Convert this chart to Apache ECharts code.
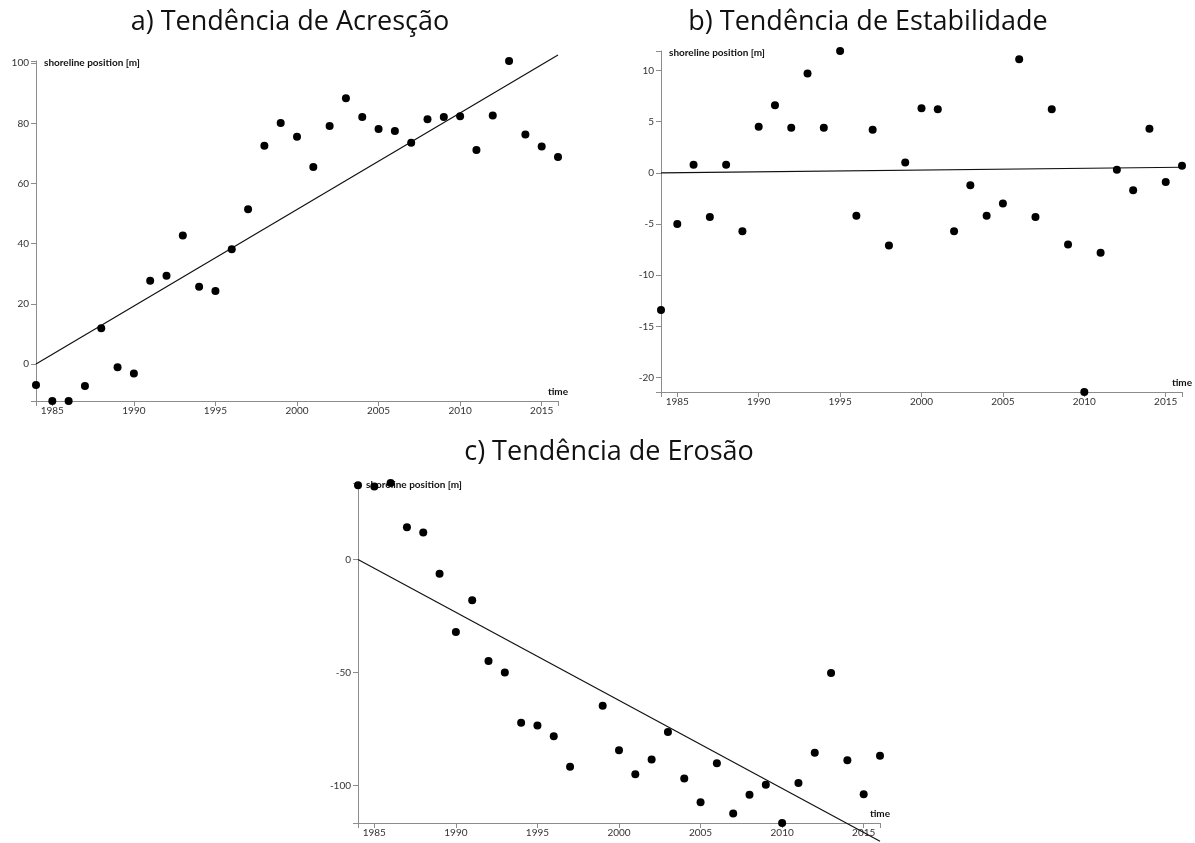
<!DOCTYPE html>
<html>
<head>
<meta charset="utf-8">
<script src="https://cdn.jsdelivr.net/npm/echarts@6/dist/echarts.min.js"></script>
<style>
  html, body { margin: 0; padding: 0; background: #fff; }
  #chart { width: 1195px; height: 843px; }
</style>
</head>
<body>
<div id="chart"></div>
<script>
// anos observados
const years = [1984, 1985, 1986, 1987, 1988, 1989, 1990, 1991, 1992, 1993, 1994,
  1995, 1996, 1997, 1998, 1999, 2000, 2001, 2002, 2003, 2004, 2005, 2006, 2007,
  2008, 2009, 2010, 2011, 2012, 2013, 2014, 2015, 2016];

// a) acresção
const accretion = [-7, -12.3, -12.3, -7.3, 11.9, -1.1, -3.2, 27.7, 29.3, 42.7, 25.7,
  24.3, 38.1, 51.4, 72.5, 80.1, 75.5, 65.5, 79.1, 88.3, 82.1, 78.1, 77.4, 73.5,
  81.3, 82.1, 82.3, 71.1, 82.6, 100.7, 76.3, 72.3, 68.8];
// b) estabilidade
const stability = [-13.4, -5.0, 0.8, -4.3, 0.8, -5.7, 4.5, 6.6, 4.4, 9.7, 4.4,
  11.9, -4.2, 4.2, -7.1, 1.0, 6.3, 6.2, -5.7, -1.2, -4.2, -3.0, 11.1, -4.3,
  6.2, -7.0, -21.4, -7.8, 0.3, -1.7, 4.3, -0.9, 0.7];
// c) erosão (sem 1998)
const erosion = [32.8, 32.3, 33.8, 14.2, 11.9, -6.3, -32.1, -18.0, -44.9, -50.0, -72.2,
  -73.4, -78.2, -91.6, null, -64.7, -84.3, -95.0, -88.4, -76.3, -96.8, -107.3, -90.1, -112.3,
  -104.0, -99.6, -116.5, -98.8, -85.4, -50.2, -88.8, -103.8, -86.8];

// linha de tendência: valor em 1984 e em 2016
const trendA = [0, 102.7];
const trendB = [0, 0.55];
const trendC = [0, -124.6];

const xTickLabels = [1985, 1990, 1995, 2000, 2005, 2010, 2015];
const yTicksA = [0, 20, 40, 60, 80, 100];
const yTicksB = [-20, -15, -10, -5, 0, 5, 10];
const yTicksC = [-100, -50, 0];

const titles = ['a) Tendência de Acresção', 'b) Tendência de Estabilidade', 'c) Tendência de Erosão'];

const axisColor = '#8c8c8c';
const titleFont = '27px "Open Sans"';
const x0 = years[0], x1 = years[years.length - 1];

function pairs(vals) {
  return years.map((y, i) => [y, vals[i]]).filter(p => p[1] != null);
}
function clean(vals) { return vals.filter(v => v != null); }

function xAxisFor(idx) {
  return {
    type: 'value', gridIndex: idx, min: x0, max: x1,
    name: 'time', nameLocation: 'end', nameGap: 0,
    nameTextStyle: { fontFamily: 'Lato', fontWeight: 'bold', fontSize: 10, color: '#111',
      align: 'center', verticalAlign: 'bottom', padding: [0, 0, 4, 0] },
    splitLine: { show: false },
    axisLine: { show: true, onZero: false, lineStyle: { color: axisColor, width: 1 } },
    axisTick: { show: true, length: 5, customValues: [x0].concat(xTickLabels, [x1]), lineStyle: { color: axisColor } },
    axisLabel: { customValues: xTickLabels, margin: 5, fontFamily: 'Lato', fontSize: 10, color: '#333',
      formatter: v => String(v) }
  };
}

function yAxisFor(idx, vals, ticks) {
  const v = clean(vals);
  const lo = Math.min(...v), hi = Math.max(...v);
  return {
    type: 'value', gridIndex: idx, min: lo, max: hi,
    name: 'shoreline position [m]', nameLocation: 'end', nameGap: -2,
    nameTextStyle: { fontFamily: 'Lato', fontWeight: 'bold', fontSize: 10, color: '#111',
      align: 'left', verticalAlign: 'middle', padding: [0, 0, 0, 8] },
    splitLine: { show: false },
    axisLine: { show: true, onZero: false, lineStyle: { color: axisColor, width: 1 } },
    axisTick: { show: true, length: 5, customValues: [lo].concat(ticks, [hi]), lineStyle: { color: axisColor } },
    axisLabel: { customValues: ticks, margin: 7, fontFamily: 'Lato', fontSize: 10, color: '#333',
      formatter: v => String(v) }
  };
}

function dots(idx, vals) {
  return {
    type: 'scatter', xAxisIndex: idx, yAxisIndex: idx,
    data: pairs(vals), symbolSize: 8, itemStyle: { color: '#000', opacity: 1 }, silent: true
  };
}
function trend(idx, t) {
  return {
    type: 'line', xAxisIndex: idx, yAxisIndex: idx, clip: false,
    data: [[x0, t[0]], [x1, t[1]]], symbol: 'none',
    lineStyle: { color: '#111', width: 1.2 }, silent: true, z: 1
  };
}

const option = {
  animation: false,
  grid: [
    { left: 36, top: 61, width: 522, height: 340 },
    { left: 661, top: 51, width: 521, height: 341 },
    { left: 358, top: 483, width: 522, height: 340 }
  ],
  xAxis: [xAxisFor(0), xAxisFor(1), xAxisFor(2)],
  yAxis: [yAxisFor(0, accretion, yTicksA), yAxisFor(1, stability, yTicksB), yAxisFor(2, erosion, yTicksC)],
  series: [
    trend(0, trendA), dots(0, accretion),
    trend(1, trendB), dots(1, stability),
    trend(2, trendC), dots(2, erosion)
  ],
  graphic: [
    { type: 'text', x: 290, y: 22, style: { text: titles[0], font: titleFont, fill: '#111', textAlign: 'center', textVerticalAlign: 'middle' } },
    { type: 'text', x: 868, y: 22, style: { text: titles[1], font: titleFont, fill: '#111', textAlign: 'center', textVerticalAlign: 'middle' } },
    { type: 'text', x: 609, y: 452, style: { text: titles[2], font: titleFont, fill: '#111', textAlign: 'center', textVerticalAlign: 'middle' } }
  ]
};

const chart = echarts.init(document.getElementById('chart'));
chart.setOption(option);
</script>
</body>
</html>
